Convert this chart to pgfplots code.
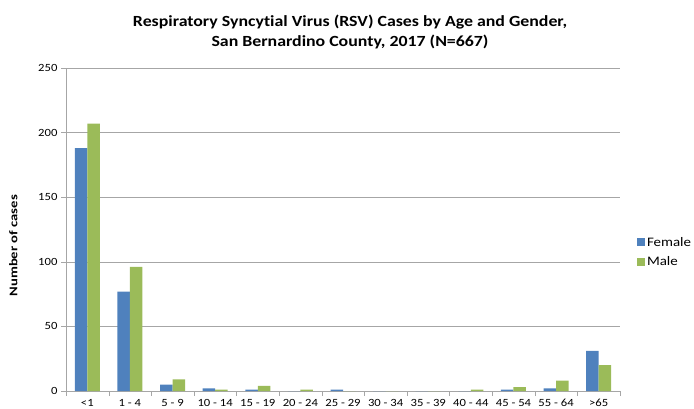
\documentclass[border=0pt]{standalone}
\usepackage{fontspec}
\setmainfont[FakeStretch=1.15, Ligatures=NoCommon]{Carlito}
\newfontfamily\ylfont[FakeStretch=1.25, Ligatures=NoCommon]{Carlito}
\usepackage{pgfplots}
\pgfplotsset{compat=1.18}
\definecolor{fem}{HTML}{4F81BD}
\definecolor{mal}{HTML}{9BBB59}
\definecolor{gridc}{HTML}{A6A6A6}
\begin{document}
\begin{tikzpicture}
\useasboundingbox (0,0) rectangle (694bp,409bp);
\begin{axis}[
  at={(66bp,18bp)}, anchor=south west,
  scale only axis, width=554bp, height=323bp,
  ybar=0pt, bar width=12.5bp,
  xmin=-0.5, xmax=12.5, ymin=0, ymax=250,
  xtick={0,...,12},
  xticklabels={{<1},{1 - 4},{5 - 9},{10 - 14},{15 - 19},{20 - 24},{25 - 29},{30 - 34},{35 - 39},{40 - 44},{45 - 54},{55 - 64},{>65}},
  major x tick style={draw=none},
  minor xtick={-0.5,0.5,...,12.5},
  minor x tick style={draw=gridc},
  minor tick length=5bp,
  x tick label style={font=\fontsize{11bp}{12bp}\selectfont, yshift=0bp},
  ytick={0,50,...,250},
  y tick label style={font=\fontsize{11bp}{12bp}\selectfont},
  /pgf/number format/assume math mode=true,
  ymajorgrids, grid style={gridc},
  major y tick style={draw=gridc}, major tick length=5bp,
  tick align=outside,
  axis x line*=bottom, axis y line*=left,
  axis line style={gridc},
  ylabel={\bfseries Number of cases},
  ylabel style={font=\ylfont\fontsize{11.7bp}{14bp}\selectfont, anchor=center, at={(axis description cs:-0.095,0.45)}},
  legend style={at={(1.025,0.43)}, anchor=west, draw=none, fill=none,
    font=\fontsize{13bp}{15bp}\selectfont, row sep=5bp,
    legend cell align=left},
  legend image code/.code={\fill[#1] (0bp,-4bp) rectangle (8bp,4bp);},
  clip=false,
]
\addplot[fill=fem, draw=none] coordinates {(0,188) (1,77) (2,5) (3,2) (4,1) (5,0) (6,1) (7,0) (8,0) (9,0) (10,1) (11,2) (12,31)};
\addplot[fill=mal, draw=none] coordinates {(0,207) (1,96) (2,9) (3,1) (4,4) (5,1) (6,0) (7,0) (8,0) (9,1) (10,3) (11,8) (12,20)};
\legend{Female, Male}
\end{axis}
\node[font=\fontsize{15.5bp}{20bp}\selectfont\bfseries, align=center] at (350bp,377bp) {Respiratory Syncytial Virus (RSV) Cases by Age and Gender,\\San Bernardino County, 2017 (N=667)};
\end{tikzpicture}
\end{document}
